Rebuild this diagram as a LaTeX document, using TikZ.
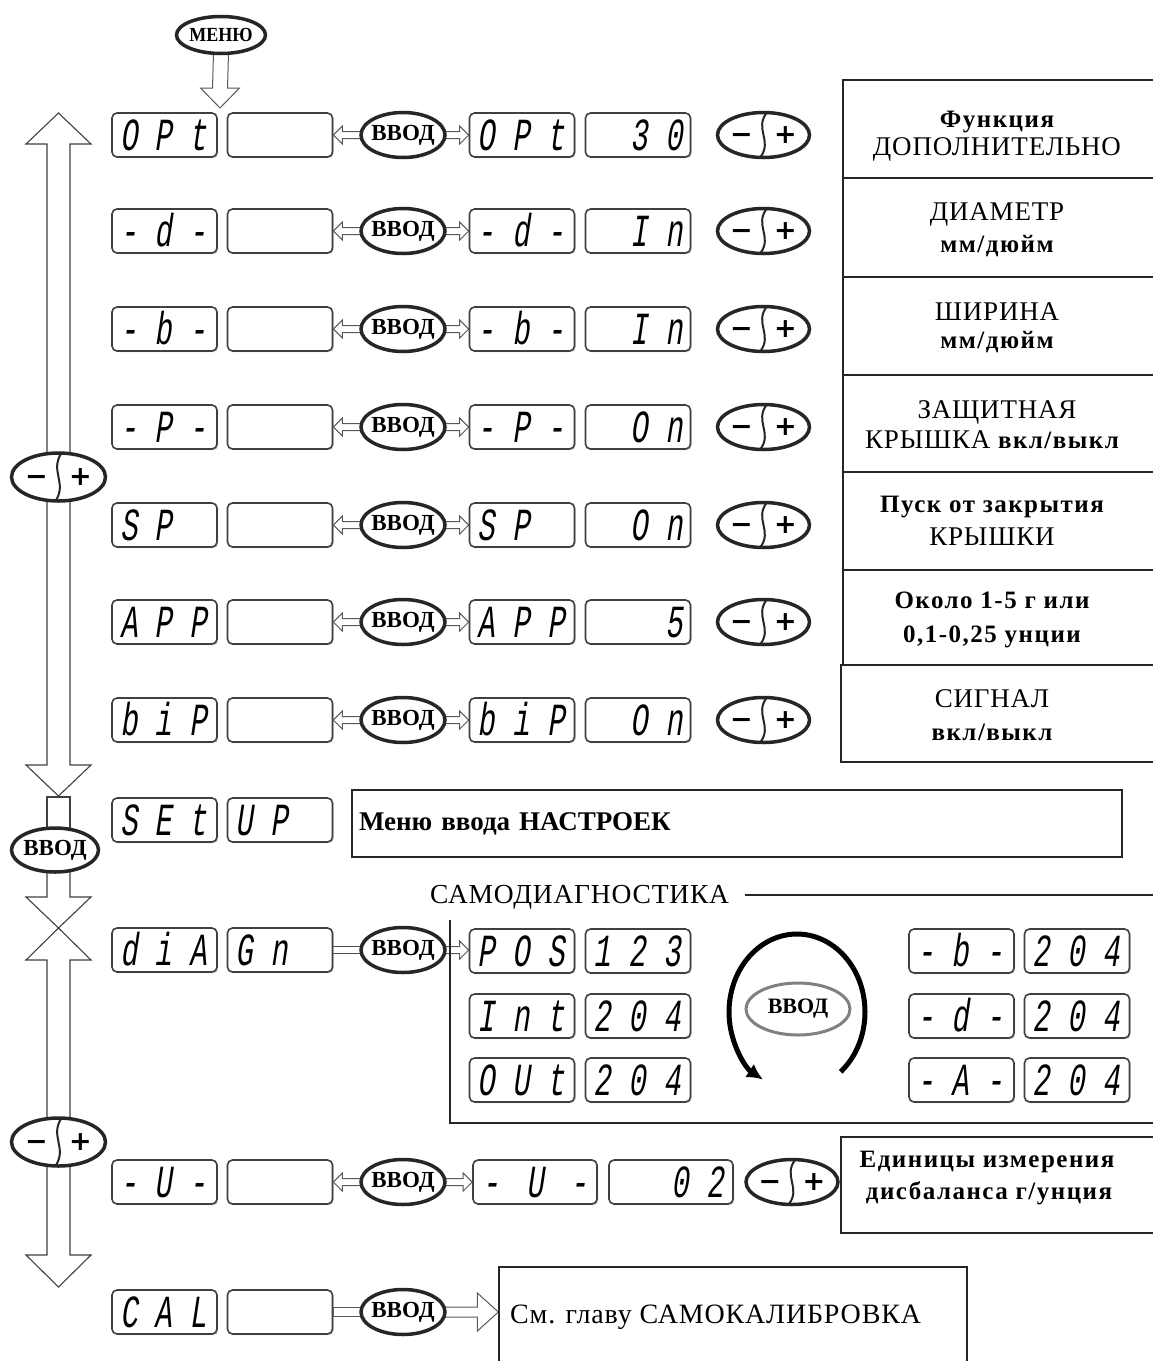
\documentclass[tikz,border=0pt]{standalone}
\usepackage{fontspec}
\setmainfont{Liberation Serif}
\newfontfamily\segfont{Liberation Mono}[FakeSlant=0.15,FakeStretch=0.63]
\newfontfamily\pmfont{DejaVu Sans}
\newfontfamily\lsfont{Liberation Serif}[LetterSpace=3]
\newfontfamily\bsfont{Liberation Serif}[LetterSpace=6]
\usetikzlibrary{shapes.geometric,arrows.meta,calc,shadows}
\pgfdeclarelayer{bg}
\pgfsetlayers{bg,main}
\newcommand\rcap{\lsfont\fontsize{27}{27}\selectfont}
\newcommand\rbold{\bsfont\bfseries\fontsize{25}{25}\selectfont}
\newcommand\harr[5]{\draw[hol] let \p1=(#1), \p2=(#2), \p3=($(#2)+(#5,0)$) in (\x1,\y1+#3pt) -- (\x3,\y1+#3pt) -- (\x3,\y1+#4pt) -- (\x2,\y1) -- (\x3,\y1-#4pt) -- (\x3,\y1-#3pt) -- (\x1,\y1-#3pt);}
\newcommand\pmdiv[2]{\draw[black!85, line width=2pt] ([shift={(3,-#2)}]#1.center) .. controls ([shift={(-9,-6)}]#1.center) and ([shift={(9,6)}]#1.center) .. ([shift={(-3,#2)}]#1.center);}
\newcommand\pmtext{\makebox[0pt]{\makebox[44pt]{−}\makebox[44pt]{+}}}
\newcommand\vv{\makebox[0pt]{ВВОД}}
\newcommand\mrow[4]{%
 \node[dl] (a#1) at (164.5,#2) {#3};
 \node[dl] (b#1) at (280,#2) {};
 \node[vvod] (v#1) at (403,#2) {\vv};
 \node[dl] (c#1) at (522,#2) {#3};
 \node[dr] (d#1) at (638,#2) {#4};
 \node[pm] (p#1) at (763.5,#2) {\pmtext};
 \pmdiv{p#1}{22}
 \begin{pgfonlayer}{bg}
 \harr{v#1.west}{b#1.east}{3.5}{9}{9}
 \harr{v#1.east}{c#1.west}{3.5}{9}{-9}
 \end{pgfonlayer}
}
\begin{document}
\begin{tikzpicture}[x=1pt,y=-1pt,
 disp/.style={rectangle, rounded corners=5pt, draw=black!75, line width=1.6pt, fill=white,
   drop shadow={shadow xshift=1.2pt, shadow yshift=-1.2pt, fill=black!35, opacity=0.6},
   minimum width=105pt, minimum height=44pt, inner sep=0pt, text width=89pt,
   text height=30pt, text depth=0pt, font=\segfont\fontsize{46}{46}\selectfont},
 dl/.style={disp, align=flush left},
 dr/.style={disp, align=flush right},
 vvod/.style={ellipse, draw=black!85, line width=3.5pt, fill=white, minimum width=84pt, minimum height=45pt, inner sep=0pt, outer sep=0pt, font=\bfseries\fontsize{23}{23}\selectfont},
 pm/.style={ellipse, draw=black!85, line width=3.5pt, fill=white, minimum width=92pt, minimum height=45pt, inner sep=0pt, outer sep=0pt, font=\pmfont\bfseries\fontsize{27}{27}\selectfont},
 hol/.style={draw=black!65, line width=1pt, fill=white},
 colarr/.style={draw=black!75, line width=1.1pt},
 frame/.style={draw=black!85, line width=1.3pt},
 rt/.style={anchor=base, inner sep=0pt},
 lt/.style={anchor=base west, inner sep=0pt}
]
\useasboundingbox (0,0) rectangle (1153,1361);
\clip (0,0) rectangle (1153,1361);
\begin{pgfonlayer}{bg}
\fill[white] (0,0) rectangle (1153,1361);
\end{pgfonlayer}

% MENU
\node[ellipse, draw=black!85, line width=3.5pt, fill=white, minimum width=89pt, minimum height=37pt, inner sep=0pt, outer sep=0pt, font=\bfseries\fontsize{20}{20}\selectfont] (menu) at (221,35) {\makebox[0pt]{\scalebox{0.9}[1]{МЕНЮ}}};
\begin{pgfonlayer}{bg}
\draw[hol] ($(menu.south)+(-7.5,0)$) -- (212.5,88) -- (200.5,88) -- (220,108) -- (239.5,88) -- (227.5,88) -- ($(menu.south)+(7.5,0)$);
\end{pgfonlayer}

% main rows
\mrow{1}{135}{O P t}{3 0}
\mrow{2}{231}{- d -}{I n}
\mrow{3}{329}{- b -}{I n}
\mrow{4}{427}{- P -}{O n}
\mrow{5}{525}{S P}{O n}
\mrow{6}{622}{A P P}{5}
\mrow{7}{720}{b i P}{O n}

% right column
\draw[frame] (1153,80) -- (843,80) -- (843,665);
\foreach \yy in {178,277,375,472,570} \draw[frame] (843,\yy) -- (1153,\yy);
\draw[frame] (1153,665) -- (841,665) -- (841,762) -- (1153,762);
\node[rt] (t1a) at (997,127) {\rbold Функция};
\node[rt] (t1b) at (997,155) {\rcap ДОПОЛНИТЕЛЬНО};
\node[rt] (t2a) at (997,220) {\rcap ДИАМЕТР};
\node[rt] (t2b) at (997,252) {\rbold мм/дюйм};
\node[rt] (t3a) at (997,320) {\rcap ШИРИНА};
\node[rt] (t3b) at (997,348) {\rbold мм/дюйм};
\node[rt] (t4a) at (997,418) {\rcap ЗАЩИТНАЯ};
\node[rt] (t4b) at (992,448) {{\rcap КРЫШКА }{\rbold вкл/выкл}};
\node[rt] (t5a) at (992,512) {\rbold Пуск от закрытия};
\node[rt] (t5b) at (992,545) {\rcap КРЫШКИ};
\node[rt] (t6a) at (992,608) {\rbold Около 1-5 г или};
\node[rt] (t6b) at (992,642) {\rbold 0,1-0,25 унции};
\node[rt] (t7a) at (992,707) {\rcap СИГНАЛ};
\node[rt] (t7b) at (992,740) {\rbold вкл/выкл};

% left column
\node[pm, minimum width=94pt, minimum height=48pt] (pL1) at (58.5,477) {\pmtext};
\pmdiv{pL1}{24}
\node[vvod, minimum width=87pt, minimum height=44pt] (vL) at (55,850) {\vv};
\node[pm, minimum width=94pt, minimum height=48pt] (pL2) at (58.5,1142) {\pmtext};
\pmdiv{pL2}{24}
\begin{pgfonlayer}{bg}
\draw[colarr] (47,765) -- (47,144) -- (26,144) -- (58.5,113) -- (91,144) -- (70,144) -- (70,765) -- (91,765) -- (58.5,796) -- (26,765) -- cycle;
\draw[colarr] (47,797) rectangle (70,835);
\draw[colarr] (47,865) -- (47,897) -- (26,897) -- (58.5,928) -- (26,960) -- (47,960) -- (47,1255) -- (26,1255) -- (58.5,1287) -- (91,1255) -- (70,1255) -- (70,960) -- (91,960) -- (58.5,928) -- (91,897) -- (70,897) -- (70,865);
\end{pgfonlayer}

% SETUP
\node[dl] (a8) at (164.5,820) {S E t};
\node[dl] (b8) at (280,820) {U P};
\node[draw=black!85, line width=1.3pt, minimum width=770pt, minimum height=67pt, inner xsep=7pt, text width=756pt, align=left, font=\bfseries\fontsize{27}{27}\selectfont] (setbox) at (737,823.5) {Меню ввода НАСТРОЕК};

% DIAGNOSTICS
\node[lt, font=\lsfont\fontsize{27.5}{27.5}\selectfont] (diagt) at (430,903) {САМОДИАГНОСТИКА};
\draw[frame] (745,895) -- (1153,895);
\draw[frame] (450,920) -- (450,1123) -- (1153,1123);
\node[dl] (a9) at (164.5,950) {d i A};
\node[dl] (b9) at (280,950) {G n};
\node[vvod] (v9) at (403,950) {\vv};
\node[dl] (e1) at (522,951) {P O S};
\node[dl] (f1) at (638,951) {1 2 3};
\node[dl] (e2) at (522,1016) {I n t};
\node[dl] (f2) at (638,1016) {2 0 4};
\node[dl] (e3) at (522,1080) {O U t};
\node[dl] (f3) at (638,1080) {2 0 4};
\node[dl] (g1) at (961.5,951) {- b -};
\node[dl] (h1) at (1077,951) {2 0 4};
\node[dl] (g2) at (961.5,1016) {- d -};
\node[dl] (h2) at (1077,1016) {2 0 4};
\node[dl] (g3) at (961.5,1080) {- A -};
\node[dl] (h3) at (1077,1080) {2 0 4};
\node[vvod, draw=black!50, line width=3pt, minimum width=104pt, minimum height=52pt, font=\bfseries\fontsize{22}{22}\selectfont] (dv) at (798,1009) {\vv};
\coordinate (arcc) at (797,1012);
\draw[line width=5pt, -{Latex[length=16pt,width=16pt]}] ([shift={(50:68 and 78)}]arcc) arc[start angle=50, end angle=-240, x radius=68, y radius=78];
\begin{pgfonlayer}{bg}
\draw[black!70, line width=1pt] ($(b9.east)+(0,-3.5)$) -- ($(v9.west)+(0,-3.5)$);
\draw[black!70, line width=1pt] ($(b9.east)+(0,3.5)$) -- ($(v9.west)+(0,3.5)$);
\harr{v9.east}{e1.west}{3.5}{9}{-9}
\end{pgfonlayer}

% UNITS row
\node[dl] (a10) at (164.5,1182) {- U -};
\node[dl] (b10) at (280,1182) {};
\node[vvod] (v10) at (403,1182) {\vv};
\node[dl, minimum width=124pt, text width=106pt] (c10) at (535,1182) {-\hfill U\hfill -};
\node[dr, minimum width=124pt, text width=106pt] (d10) at (671,1182) {0 2};
\node[pm] (p10) at (792,1182) {\pmtext};
\pmdiv{p10}{22}
\begin{pgfonlayer}{bg}
\harr{v10.west}{b10.east}{3.5}{9}{9}
\harr{v10.east}{c10.west}{3.5}{9}{-9}
\end{pgfonlayer}
\draw[frame] (1153,1137) -- (841,1137) -- (841,1233) -- (1153,1233);
\node[rt] (tUa) at (987,1167) {\rbold Единицы измерения};
\node[rt] (tUb) at (989,1199) {\rbold дисбаланса г/унция};

% CAL row
\node[dl] (a11) at (164.5,1312) {C A L};
\node[dl] (b11) at (280,1312) {};
\node[vvod] (v11) at (403,1312) {\vv};
\node[draw=black!85, line width=1.3pt, minimum width=468pt, minimum height=115pt, inner sep=0pt] (calbox) at (733,1324.5) {};
\node[lt, font=\lsfont\fontsize{28}{28}\selectfont] (caltext) at (510,1323) {См. главу САМОКАЛИБРОВКА};
\coordinate (caltip) at (calbox.west |- v11.center);
\begin{pgfonlayer}{bg}
\draw[hol] let \p1=(b11.east), \p2=(v11.west) in (\x1,\y1-4.5pt) rectangle (\x2,\y1+4.5pt);
\harr{v11.east}{caltip}{5}{19}{-21}
\end{pgfonlayer}
\end{tikzpicture}
\end{document}
